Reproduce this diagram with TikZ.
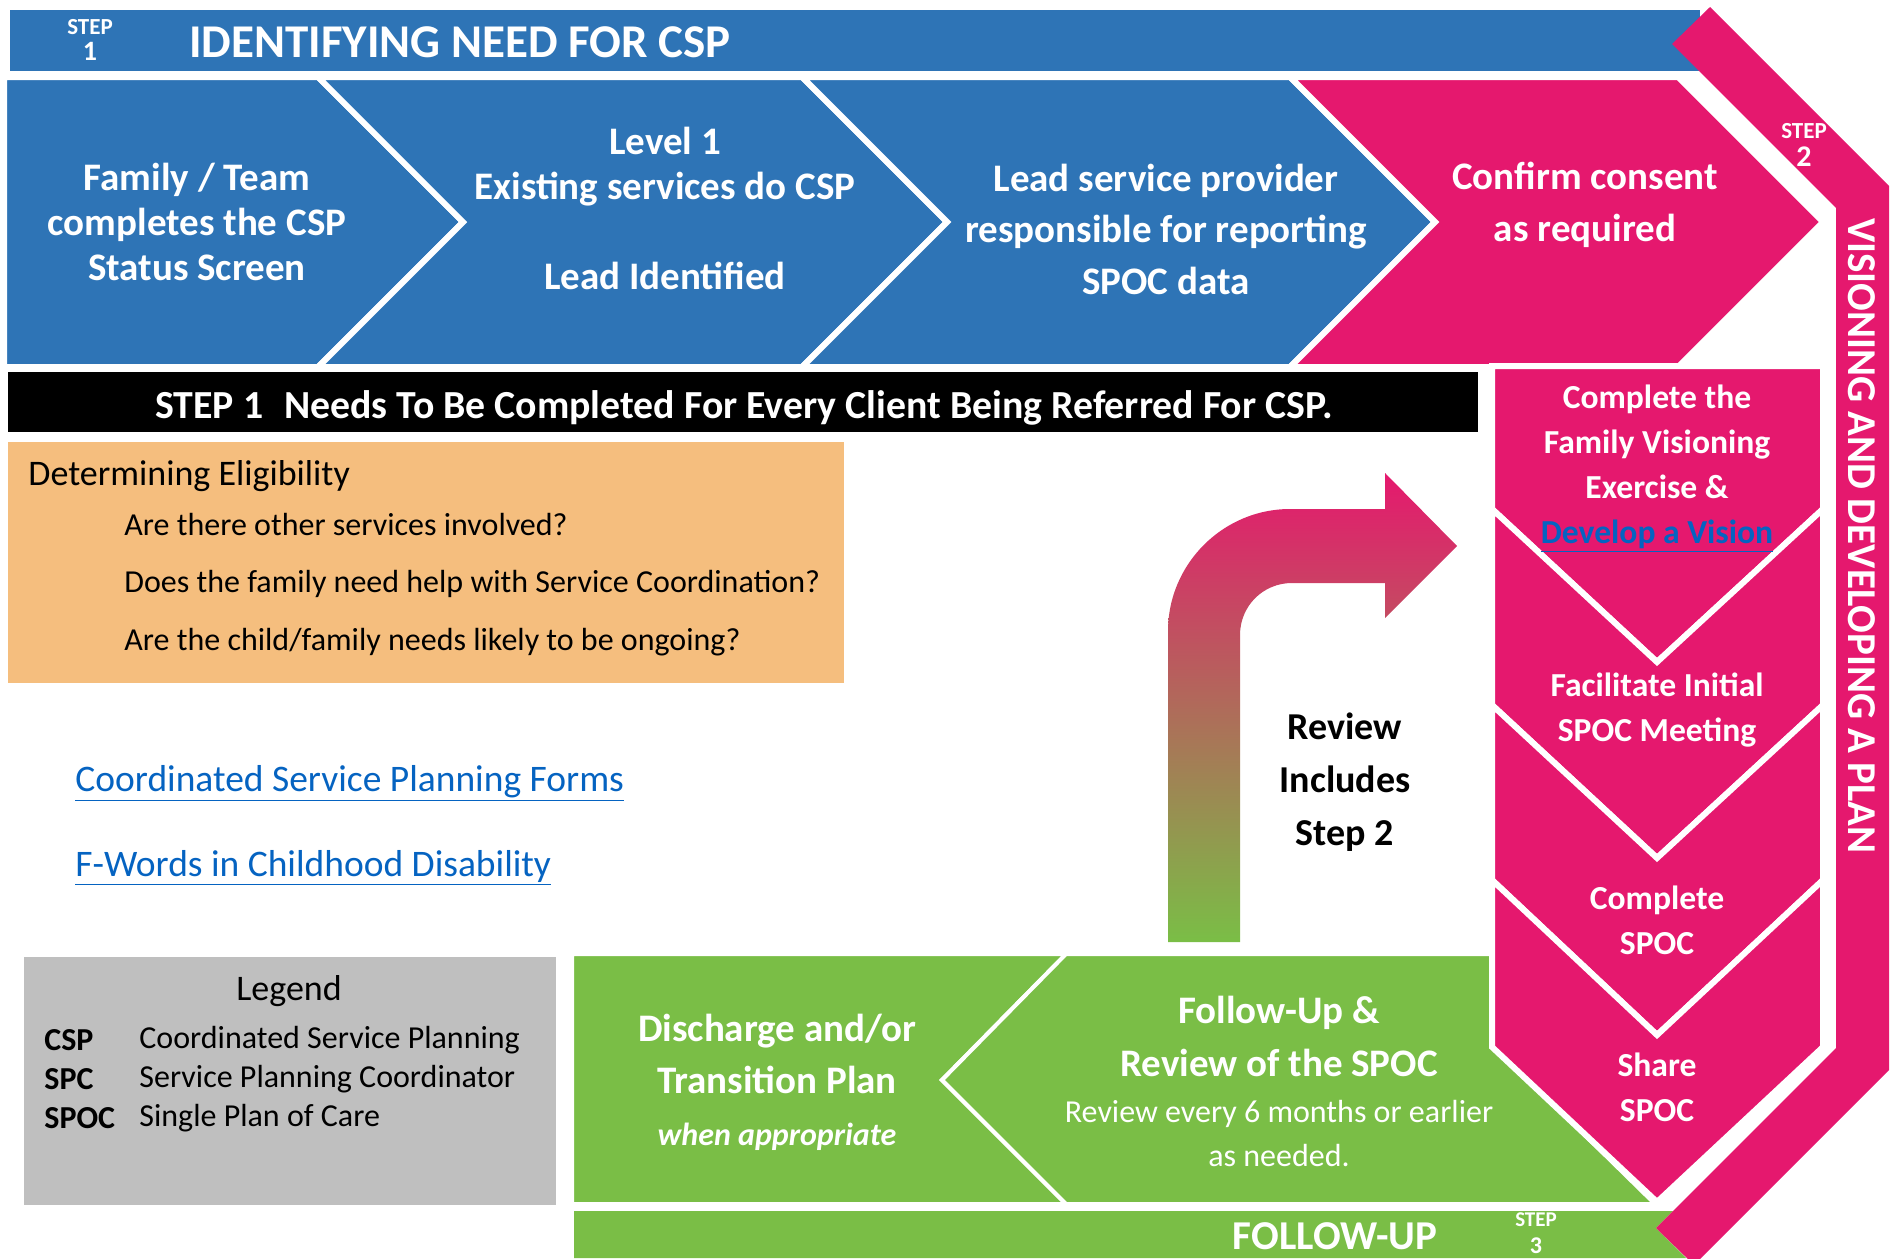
\documentclass[tikz,border=0pt]{standalone}
\usepackage{fontspec}
\setmainfont{Carlito}
\usetikzlibrary{positioning}

\definecolor{cspblue}{RGB}{46,116,182}
\definecolor{csppink}{RGB}{229,24,110}
\definecolor{cspgreen}{RGB}{122,190,70}
\definecolor{csporange}{RGB}{245,190,126}
\definecolor{cspgrey}{RGB}{191,191,191}
\definecolor{csplink}{RGB}{5,99,193}

\newcommand{\fsz}[2]{\fontsize{#1}{#2}\selectfont}

\tikzset{
  chev/.style={fill=#1, draw=white, line width=3pt, line join=miter},
  gchev/.style={fill=cspgreen, draw=white, line width=2pt, line join=miter},
  pinkcol/.style={fill=csppink, draw=white, line width=3pt, line join=miter},
  wtext/.style={text=white, align=center, inner sep=0pt},
  btext/.style={text=black, inner sep=0pt},
  steplbl/.style={text=white, inner sep=0pt, font=\bfseries\fsz{11.5}{12}},
  stepnum/.style={text=white, inner sep=0pt, font=\bfseries\fsz{14}{15}},
  linktext/.style={text=csplink, inner sep=0pt, anchor=base west, font=\fsz{18.75}{22}},
}

\begin{document}
\begin{tikzpicture}[x=0.5pt, y=-0.5pt]
  \useasboundingbox (0,0) rectangle (1899,1258);
  %step 1
  \fill[cspblue] (10,10) rectangle (1700,71);
  \draw[chev=cspblue] (4,77) -- (318,77) -- (463,222) -- (318,367) -- (4,367) -- cycle;
  \draw[chev=cspblue] (318,77) -- (802,77) -- (947,222) -- (802,367) -- (318,367) -- (463,222) -- cycle;
  \draw[chev=cspblue] (802,77) -- (1290,77) -- (1435,222) -- (1290,367) -- (802,367) -- (947,222) -- cycle;
  \draw[chev=csppink] (1290,77) -- (1678,77) -- (1823,222) -- (1678,367) -- (1290,367) -- (1435,222) -- cycle;
  \fill[black] (8,372) rectangle (1478,432);
  \fill[csporange] (8,442) rectangle (844,683);
  \fill[cspgrey] (24,957) rectangle (556,1205);
  %step 3
  \draw[gchev] (572,954) -- (1066,954) -- (942,1080) -- (1066,1204) -- (572,1204) -- cycle;
  \draw[gchev] (1066,954) -- (1495,954) -- (1495,1047) -- (1655,1204) -- (1066,1204) -- (942,1080) -- cycle;
  \fill[cspgreen] (574,1211) -- (1673,1211) -- (1656,1228) -- (1686,1258) -- (574,1258) -- cycle;
  %step 2
  \draw[pinkcol] (1492,366) -- (1823,366) -- (1823,509) -- (1657,662) -- (1492,509) -- cycle;
  \draw[pinkcol] (1492,509) -- (1657,662) -- (1823,509) -- (1823,705) -- (1657,858) -- (1492,705) -- cycle;
  \draw[pinkcol] (1492,705) -- (1657,858) -- (1823,705) -- (1823,880) -- (1657,1035) -- (1492,880) -- cycle;
  \draw[pinkcol] (1492,880) -- (1657,1035) -- (1823,880) -- (1823,1047) -- (1657,1202) -- (1492,1047) -- cycle;
  \fill[csppink] (1710,7) -- (1889,186) -- (1889,1070) -- (1694,1265) -- (1656,1228) -- (1836,1048) -- (1836,208) -- (1672,44) -- cycle;
  %freccia
  \shade[top color=csppink, bottom color=cspgreen] (1168,942) -- (1168,631) .. controls (1168,564) and (1223,509) .. (1290,509) -- (1385,509) -- (1385,473) -- (1457,546) -- (1385,618) -- (1385,583) -- (1292,583) .. controls (1263,583) and (1240,606) .. (1240,635) -- (1240,942) -- cycle;

  %testi
  \node[steplbl] (steponelbl) at (90,27) {STEP};
  \node[stepnum] (steponenum) at (90,51) {1};
  \node[wtext, anchor=west, font=\bfseries\fsz{23.5}{28}] (title) at (189,42) {IDENTIFYING NEED FOR CSP};
  \node[wtext, font=\bfseries\fsz{19.5}{22.5}] (famteam) at (197,222) {Family / Team\\completes the CSP\\Status Screen};
  \node[wtext, font=\bfseries\fsz{19.5}{22.5}] (level) at (665,208) {Level 1\\Existing services do CSP\\[22.5pt]Lead Identified};
  \node[wtext, font=\bfseries\fsz{19.5}{25.75}] (leadsp) at (1166,229) {Lead service provider\\responsible for reporting\\SPOC data};
  \node[wtext, font=\bfseries\fsz{19.5}{26}] (consent) at (1585,205) {Confirm consent\\as required};
  \node[wtext, anchor=west, font=\bfseries\fsz{19.9}{22}] (everyclient) at (155,408) {STEP 1\hspace{0.3em} Needs To Be Completed For Every Client Being Referred For CSP.};

  \node[btext, anchor=west, font=\fsz{18}{22}] (elig) at (28,476) {Determining Eligibility};
  \node[btext, anchor=west, font=\fsz{16}{20}] (qone) at (124,524) {Are there other services involved?};
  \node[btext, anchor=west, font=\fsz{16}{20}] (qtwo) at (124,584) {Does the family need help with Service Coordination?};
  \node[btext, anchor=west, font=\fsz{16}{20}] (qthree) at (124,642) {Are the child/family needs likely to be ongoing?};

  \node[linktext] (formslink) at (75,791) {\underline{Coordinated Service Planning Forms}};
  \node[linktext] (fwordslink) at (75,876) {\underline{F-Words in Childhood Disability}};

  \node[btext, font=\fsz{18}{22}] (legend) at (289,991) {Legend};
  \foreach \ab/\df/\yy in {CSP/Coordinated Service Planning/1040, SPC/Service Planning Coordinator/1079, SPOC/Single Plan of Care/1118}{
    \node[btext, anchor=west, font=\bfseries\fsz{16}{20}] (ab-\ab) at (44,\yy) {\ab};
    \node[btext, anchor=west, font=\fsz{16}{20}] (df-\ab) at (139,\yy) {\df};
  }

  \node[wtext, font=\bfseries\fsz{16.8}{22.5}] (vision) at (1657,469) {Complete the\\Family Visioning\\Exercise \&\\\textcolor{csplink}{\underline{Develop a Vision}}};
  \node[wtext, font=\bfseries\fsz{16.8}{22.5}] (facil) at (1657,710) {Facilitate Initial\\SPOC Meeting};
  \node[wtext, font=\bfseries\fsz{16.8}{22.5}] (complspoc) at (1657,920) {Complete\\SPOC};
  \node[wtext, font=\bfseries\fsz{16.8}{22.5}] (sharespoc) at (1657,1087) {Share\\SPOC};
  \node[steplbl] (steptwolbl) at (1804,131) {STEP};
  \node[stepnum, font=\bfseries\fsz{15}{16}] (steptwonum) at (1804,157) {2};
  \node[wtext, rotate=-90, font=\bfseries\fsz{20.5}{24}] (visplan) at (1862,536) {VISIONING AND DEVELOPING A PLAN};

  \node[btext, align=center, font=\bfseries\fsz{19}{26.5}] (reviewinc) at (1345,782) {Review\\Includes\\Step 2};

  \node[wtext, font=\bfseries\fsz{19.5}{26}] (discharge) at (777,1082) {Discharge and/or\\Transition Plan\\{\itshape\fsz{16}{20}when appropriate}};
  \node[wtext, font=\bfseries\fsz{19.5}{26.5}] (followup) at (1279,1036) {Follow-Up \&\\Review of the SPOC};
  \node[wtext, font=\fsz{16}{22}] (revevery) at (1279,1133) {Review every 6 months or earlier\\as needed.};
  \node[wtext, font=\bfseries\fsz{20.5}{24}] (fu) at (1335,1236) {FOLLOW-UP};
  \node[steplbl, font=\bfseries\fsz{10.5}{11}] (stepthreelbl) at (1536,1220) {STEP};
  \node[stepnum, font=\bfseries\fsz{12}{13}] (stepthreenum) at (1536,1246) {3};
\end{tikzpicture}
\end{document}
